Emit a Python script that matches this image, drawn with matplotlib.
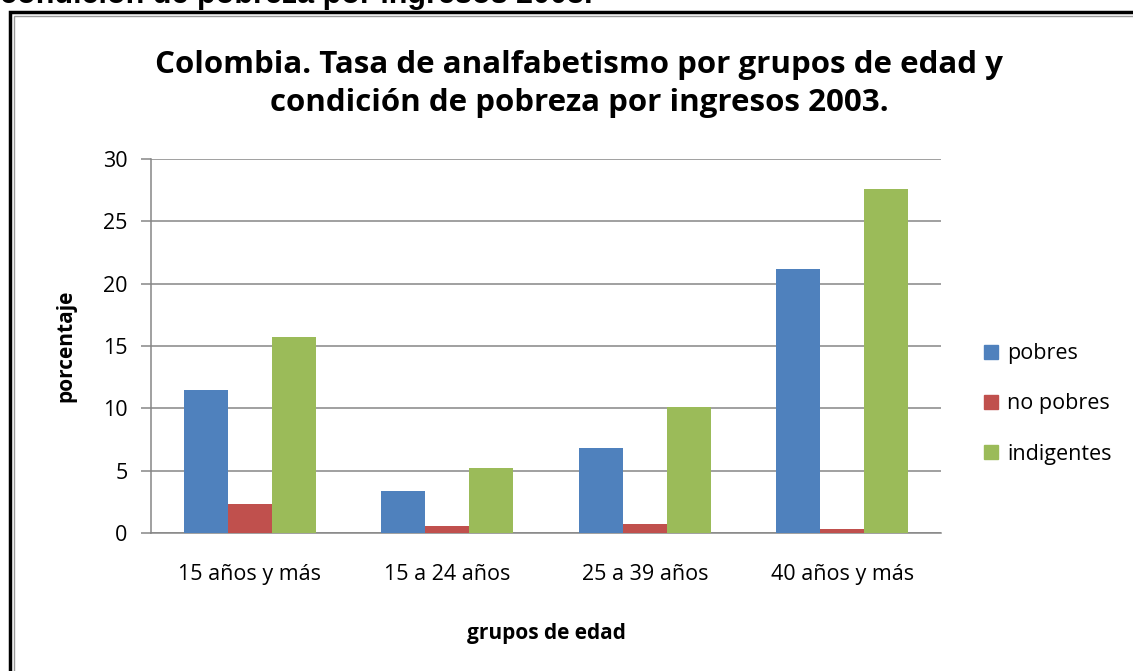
import matplotlib.pyplot as plt
from matplotlib.patches import Rectangle
import numpy as np

# Datos: tasa de analfabetismo (%) por grupo de edad y condición de pobreza
grupos = ['15 años y más', '15 a 24 años', '25 a 39 años', '40 años y más']
pobres = [11.5, 3.4, 6.8, 21.2]
no_pobres = [2.3, 0.6, 0.7, 0.3]
indigentes = [15.7, 5.2, 10.1, 27.6]
series = ['pobres', 'no pobres', 'indigentes']
colores = ['#4F81BD', '#C0504D', '#9BBB59']

plt.rcParams['font.family'] = ['Open Sans', 'DejaVu Sans']

fig = plt.figure(figsize=(11.33, 6.71), dpi=100)
fig.patch.set_facecolor('white')

# marco del gráfico (doble línea, cortado a la derecha y abajo)
W, H = 1133, 671
fig.add_artist(Rectangle((10 / W, -0.1), 1.2, 1.1 - 12 / H, transform=fig.transFigure,
                         fill=False, edgecolor='black', linewidth=2.5))
fig.add_artist(Rectangle((13.5 / W, -0.1), 1.2, 1.1 - 15.5 / H, transform=fig.transFigure,
                         fill=False, edgecolor='#9a9a9a', linewidth=1.0))

# texto del documento que queda cortado arriba
fig.text(0, 1 - 3 / H, 'condición de pobreza por ingresos 2003.', family='Liberation Sans',
         fontsize=22, fontweight='bold', ha='left', va='baseline')

ax = fig.add_axes([151 / W, 1 - 533 / H, (941 - 151) / W, (533 - 159) / H])

x = np.arange(len(grupos))
ancho = 0.222
for i, (vals, nombre, c) in enumerate(zip([pobres, no_pobres, indigentes], series, colores)):
    ax.bar(x + (i - 1) * ancho, vals, width=ancho, color=c, label=nombre, zorder=3)

ax.set_xlim(-0.5, len(grupos) - 0.5)
ax.set_ylim(0, 30)
ax.set_yticks(range(0, 31, 5))
ax.set_xticks(x)
ax.set_xticklabels(grupos, fontsize=15.5)
ax.tick_params(axis='x', length=0, pad=22)
ax.tick_params(axis='y', length=7, width=1.1, color='#868686', pad=10, labelsize=15.5)
ax.grid(axis='y', color='#868686', linewidth=1.1, zorder=0)
for lado in ['top', 'right']:
    ax.spines[lado].set_visible(False)
for lado in ['left', 'bottom']:
    ax.spines[lado].set_color('#868686')
    ax.spines[lado].set_linewidth(1.1)

ax.set_xlabel('grupos de edad', fontsize=15, fontweight='bold', labelpad=28)
ax.set_ylabel('porcentaje', fontsize=15, fontweight='bold', labelpad=19)

fig.text(579 / W, 1 - 65 / H, 'Colombia. Tasa de analfabetismo por grupos de edad y',
         fontsize=22.5, fontweight='bold', ha='center', va='center')
fig.text(579 / W, 1 - 103 / H, 'condición de pobreza por ingresos 2003.',
         fontsize=22.5, fontweight='bold', ha='center', va='center')

handles = [Rectangle((0, 0), 1, 1, color=c) for c in colores]
fig.legend(handles, series, loc='center left', bbox_to_anchor=(965 / W, 1 - 404 / H),
           frameon=False, fontsize=15.5, handlelength=0.65, handleheight=0.65,
           handletextpad=0.4, labelspacing=1.35)

plt.savefig('out.png', dpi=100)
